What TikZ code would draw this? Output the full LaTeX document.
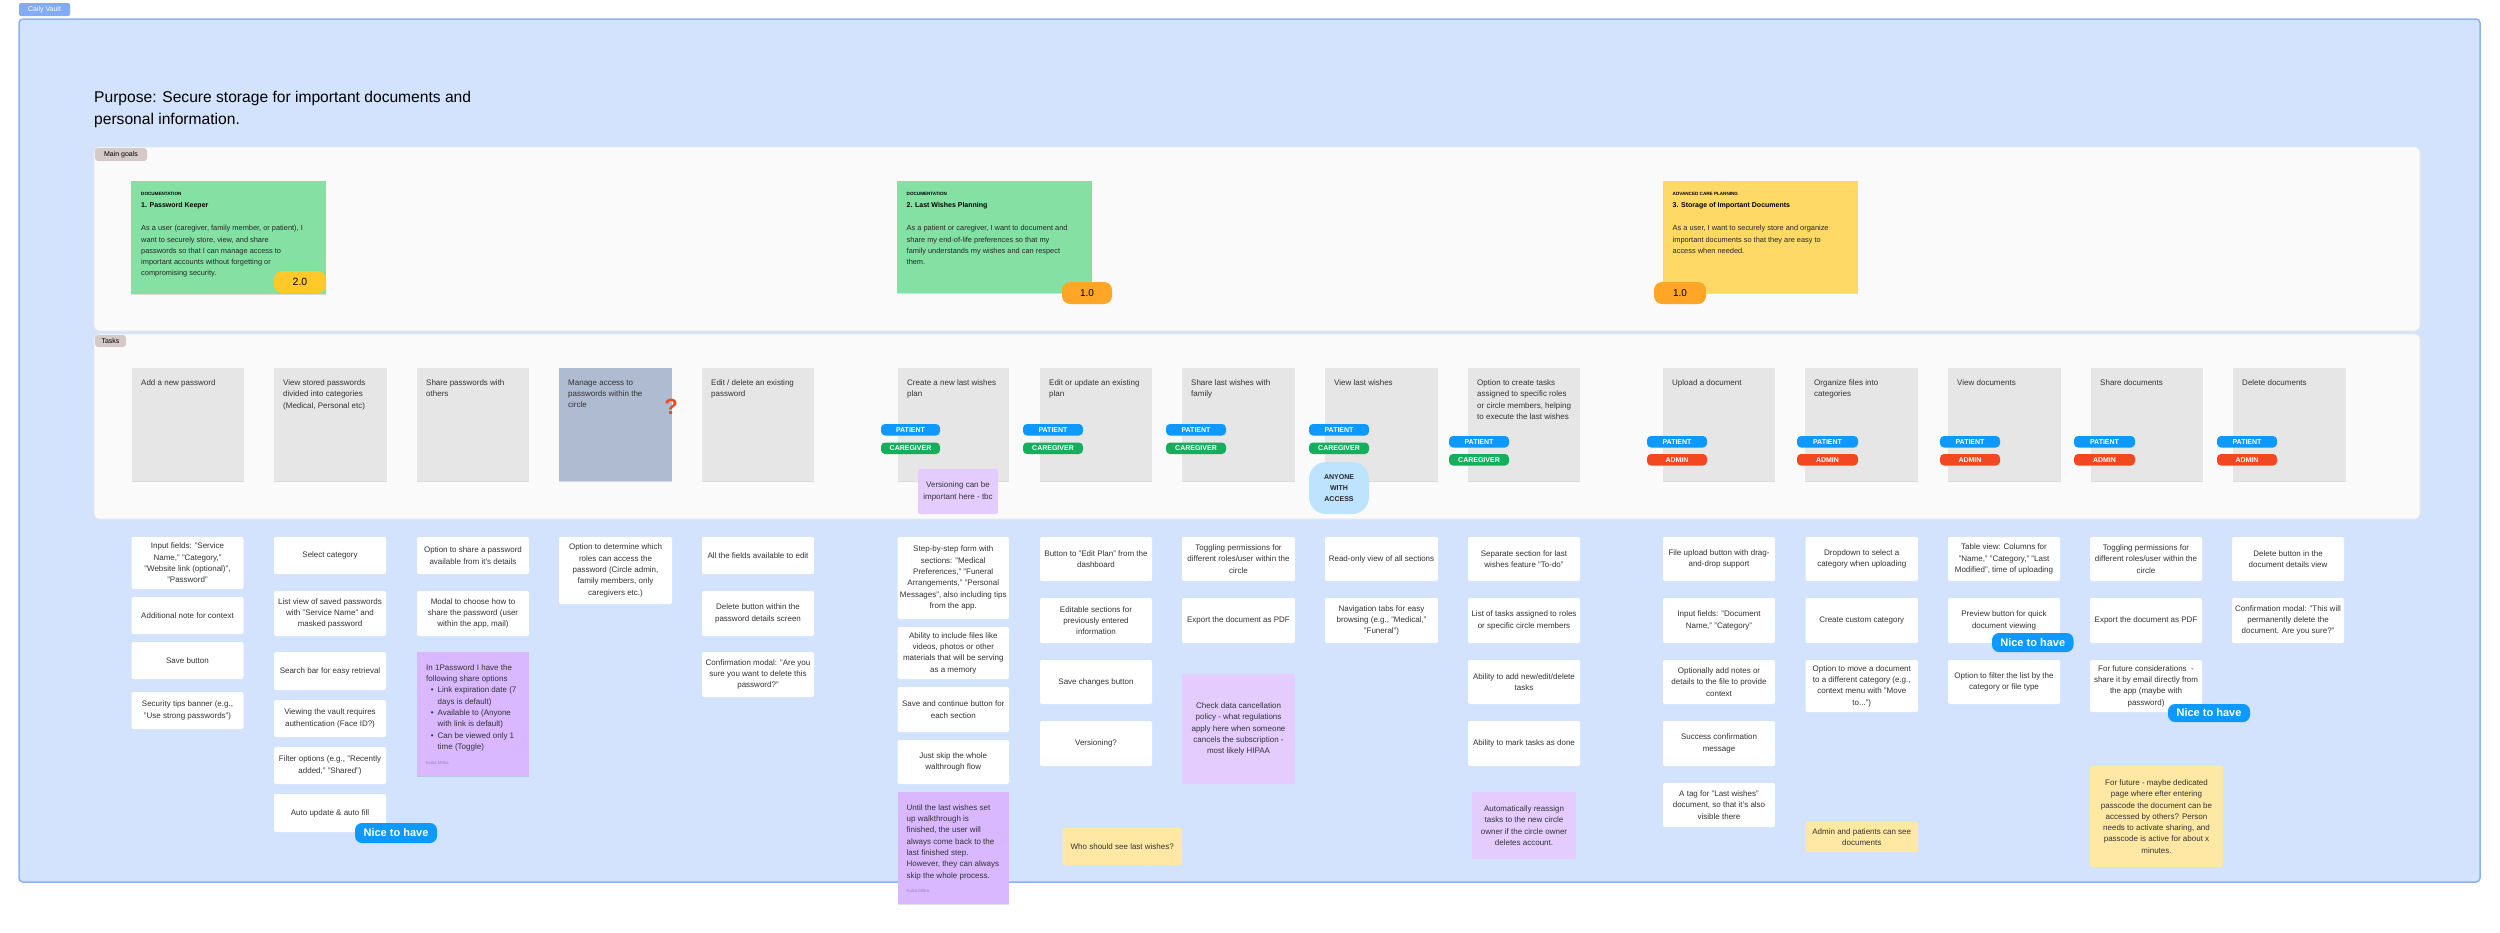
\documentclass[tikz,border=0pt]{standalone}
\usepackage{fontspec}
\setmainfont{Liberation Sans}
\usetikzlibrary{shadows}
\definecolor{framefill}{HTML}{D3E3FD}
\definecolor{frameline}{HTML}{8CB2F2}
\definecolor{vaultlbl}{HTML}{83ABF5}
\definecolor{panelfill}{HTML}{FAFAFA}
\definecolor{panelline}{HTML}{E6E6E6}
\definecolor{plabel}{HTML}{D5C9CA}
\definecolor{taskfill}{HTML}{E6E6E6}
\definecolor{taskblue}{HTML}{AEBBD0}
\definecolor{txt}{HTML}{333333}
\definecolor{ggreen}{HTML}{85E0A3}
\definecolor{gyellow}{HTML}{FFD966}
\definecolor{bdgyel}{HTML}{FFC929}
\definecolor{bdgor}{HTML}{FFA629}
\definecolor{cpatient}{HTML}{0D99FF}
\definecolor{ccare}{HTML}{14AE5C}
\definecolor{cadmin}{HTML}{F24822}
\definecolor{anyone}{HTML}{BDE3FF}
\definecolor{purpleA}{HTML}{D9B8FF}
\definecolor{purpleB}{HTML}{E4CCFF}
\definecolor{ynote}{HTML}{FFE8A3}
\definecolor{author}{HTML}{9C86B8}
\newcommand{\rbox}[7]{\node[#2,minimum width={(#5-#3)*1pt},minimum height={(#6-#4)*1pt}] (#1) at ({(#3+#5)/2},{(#4+#6)/2}) {#7};}
\newcommand{\bul}{\makebox[11.5pt][r]{\textbullet\hspace{4pt}}}
\newcommand{\ind}{\hspace*{11.5pt}}
\begin{document}
\begin{tikzpicture}[x=1pt,y=-1pt,
  frame/.style={draw=frameline,line width=1.5pt,fill=framefill,rounded corners=4pt},
  vlabel/.style={fill=vaultlbl,rounded corners=2pt,text=white,font=\fontsize{7}{8}\selectfont,inner sep=0pt},
  panel/.style={draw=panelline,line width=0.6pt,fill=panelfill,rounded corners=5pt},
  plbl/.style={fill=plabel,rounded corners=3pt,text=black,font=\fontsize{7}{8}\selectfont,inner sep=0pt},
  shad/.style={drop shadow={shadow xshift=0pt,shadow yshift=-1.3pt,opacity=0.12,fill=black}},
  tcard/.style={fill=taskfill,shad,inner sep=0pt},
  gcard/.style={shad,inner sep=0pt},
  tl/.style={anchor=north west,inner sep=0pt,align=left,text=txt,font=\fontsize{8}{11.3}\selectfont},
  wcard/.style={fill=white,rounded corners=2pt,inner sep=1pt,align=center,text=txt,font=\fontsize{8}{11.3}\selectfont},
  pnoteA/.style={fill=purpleA,shad,inner sep=0pt},
  pnoteB/.style={fill=purpleB,rounded corners=1.5pt,inner sep=1pt,align=center,text=txt,font=\fontsize{8}{11.3}\selectfont},
  ynotes/.style={fill=ynote,rounded corners=1.5pt,inner sep=1pt,align=center,text=txt,font=\fontsize{8}{11.3}\selectfont},
  role/.style={rounded corners=4pt,text=white,inner sep=0pt,font=\bfseries\fontsize{7}{8}\selectfont},
  nice/.style={fill=cpatient,rounded corners=7pt,text=white,inner sep=0pt,font=\bfseries\fontsize{11}{12}\selectfont},
  ver/.style={rounded corners=8pt,text=black,inner sep=0pt},
  auth/.style={anchor=base west,inner sep=0pt,text=author,font=\fontsize{4.5}{5}\selectfont}
]
\useasboundingbox (0,0) rectangle (2500,932);
% frame
\rbox{frame}{frame}{19}{19}{2480}{882}{}
\rbox{vault}{vlabel}{19}{3}{70}{16}{Caily Vault}
\node[anchor=north west,inner sep=0pt,align=left,text=black,font=\fontsize{15.6}{22}\selectfont] (purpose) at (94,91)
  {Purpose: Secure storage for important documents and\\personal information.};
% panels
\rbox{goals}{panel}{94}{147}{2420}{331}{}
\rbox{goalslbl}{plbl}{95}{148}{147}{161}{Main goals}
\rbox{tasks}{panel}{94}{334}{2420}{519}{}
\rbox{taskslbl}{plbl}{95}{335}{126}{347}{Tasks}
% goal cards
\rbox{g1}{gcard,fill=ggreen}{131}{181}{326}{294}{}
\node[anchor=base west,inner sep=0pt,font=\bfseries\fontsize{4.6}{5}\selectfont] (g1k) at (141,195.8) {DOCUMENTATION};
\node[anchor=base west,inner sep=0pt,font=\bfseries\fontsize{7}{8}\selectfont] (g1t) at (141,207.6) {1. Password Keeper};
\node[tl,text=black!85,font=\fontsize{7.4}{11.2}\selectfont] (g1b) at (141,225.3) {As a user (caregiver, family member, or patient), I\\want to securely store, view, and share\\passwords so that I can manage access to\\important accounts without forgetting or\\compromising security.};
\rbox{v1}{ver,fill=bdgyel,font=\fontsize{10.5}{11}\selectfont}{274}{271}{326}{293}{2.0}
\rbox{g2}{gcard,fill=ggreen}{897}{181}{1092}{293}{}
\node[anchor=base west,inner sep=0pt,font=\bfseries\fontsize{4.6}{5}\selectfont] (g2k) at (906.5,195.8) {DOCUMENTATION};
\node[anchor=base west,inner sep=0pt,font=\bfseries\fontsize{7}{8}\selectfont] (g2t) at (906.5,207.6) {2. Last Wishes Planning};
\node[tl,text=black!85,font=\fontsize{7.4}{11.2}\selectfont] (g2b) at (906.5,225.3) {As a patient or caregiver, I want to document and\\share my end-of-life preferences so that my\\family understands my wishes and can respect\\them.};
\rbox{v2}{ver,fill=bdgor,font=\fontsize{10}{11}\selectfont}{1062}{282}{1112}{304}{1.0}
\rbox{g3}{gcard,fill=gyellow}{1663}{181}{1858}{293}{}
\node[anchor=base west,inner sep=0pt,font=\bfseries\fontsize{4.6}{5}\selectfont] (g3k) at (1672.5,195.8) {ADVANCED CARE PLANNING};
\node[anchor=base west,inner sep=0pt,font=\bfseries\fontsize{7}{8}\selectfont] (g3t) at (1672.5,207.6) {3. Storage of Important Documents};
\node[tl,text=black!85,font=\fontsize{7.4}{11.2}\selectfont] (g3b) at (1672.5,225.3) {As a user, I want to securely store and organize\\important documents so that they are easy to\\access when needed.};
\rbox{v3}{ver,fill=bdgor,font=\fontsize{10}{11}\selectfont}{1654}{282}{1706}{304}{1.0}
% task cards
\rbox{t1}{tcard}{132}{368}{244}{481}{}
\node[tl] (t1x) at (141,379.5) {Add a new password};
\rbox{t2}{tcard}{274}{368}{387}{481}{}
\node[tl] (t2x) at (283,379.5) {View stored passwords\\divided into categories\\(Medical, Personal etc)};
\rbox{t3}{tcard}{417}{368}{529}{481}{}
\node[tl] (t3x) at (426,379.5) {Share passwords with\\others};
\rbox{t4}{tcard,fill=taskblue}{559}{368}{672}{481}{}
\node[tl] (t4x) at (568,379.5) {Manage access to\\passwords within the\\circle};
\node[inner sep=0pt,text=cadmin,font=\bfseries\fontsize{22}{22}\selectfont] (qm) at (671,407) {?};
\rbox{t5}{tcard}{702}{368}{814}{481}{}
\node[tl] (t5x) at (711,379.5) {Edit / delete an existing\\password};
\rbox{t6}{tcard}{898}{368}{1009}{481}{}
\node[tl] (t6x) at (907,379.5) {Create a new last wishes\\plan};
\rbox{t7}{tcard}{1040}{368}{1152}{481}{}
\node[tl] (t7x) at (1049,379.5) {Edit or update an existing\\plan};
\rbox{t8}{tcard}{1182}{368}{1295}{481}{}
\node[tl] (t8x) at (1191,379.5) {Share last wishes with\\family};
\rbox{t9}{tcard}{1325}{368}{1438}{481}{}
\node[tl] (t9x) at (1334,379.5) {View last wishes};
\rbox{t10}{tcard}{1468}{368}{1580}{481}{}
\node[tl] (t10x) at (1477,379.5) {Option to create tasks\\assigned to specific roles\\or circle members, helping\\to execute the last wishes};
\rbox{t11}{tcard}{1663}{368}{1775}{481}{}
\node[tl] (t11x) at (1672,379.5) {Upload a document};
\rbox{t12}{tcard}{1805}{368}{1918}{481}{}
\node[tl] (t12x) at (1814,379.5) {Organize files into\\categories};
\rbox{t13}{tcard}{1948}{368}{2061}{481}{}
\node[tl] (t13x) at (1957,379.5) {View documents};
\rbox{t14}{tcard}{2091}{368}{2203}{481}{}
\node[tl] (t14x) at (2100,379.5) {Share documents};
\rbox{t15}{tcard}{2233}{368}{2346}{481}{}
\node[tl] (t15x) at (2242,379.5) {Delete documents};
% role badges
\rbox{p6}{role,fill=cpatient}{881}{424}{940}{435.5}{PATIENT}
\rbox{c6}{role,fill=ccare}{881}{442.5}{940}{454}{CAREGIVER}
\rbox{p7}{role,fill=cpatient}{1023}{424}{1083}{435.5}{PATIENT}
\rbox{c7}{role,fill=ccare}{1023}{442.5}{1083}{454}{CAREGIVER}
\rbox{p8}{role,fill=cpatient}{1166}{424}{1226}{435.5}{PATIENT}
\rbox{c8}{role,fill=ccare}{1166}{442.5}{1226}{454}{CAREGIVER}
\rbox{p9}{role,fill=cpatient}{1309}{424}{1369}{435.5}{PATIENT}
\rbox{c9}{role,fill=ccare}{1309}{442.5}{1369}{454}{CAREGIVER}
\rbox{any}{fill=anyone,rounded corners=17pt,inner sep=0pt,align=center,text=black!85,font=\bfseries\fontsize{7}{11}\selectfont}{1309}{462}{1369}{514}{ANYONE\\WITH\\ACCESS}
\rbox{p10}{role,fill=cpatient}{1449}{436}{1509}{447.5}{PATIENT}
\rbox{c10}{role,fill=ccare}{1449}{454}{1509}{465.5}{CAREGIVER}
\rbox{p11}{role,fill=cpatient}{1647}{436}{1707}{447.5}{PATIENT}
\rbox{a11}{role,fill=cadmin}{1647}{454}{1707}{465.5}{ADMIN}
\rbox{p12}{role,fill=cpatient}{1797}{436}{1858}{447.5}{PATIENT}
\rbox{a12}{role,fill=cadmin}{1797}{454}{1858}{465.5}{ADMIN}
\rbox{p13}{role,fill=cpatient}{1940}{436}{2000}{447.5}{PATIENT}
\rbox{a13}{role,fill=cadmin}{1940}{454}{2000}{465.5}{ADMIN}
\rbox{p14}{role,fill=cpatient}{2074}{436}{2135}{447.5}{PATIENT}
\rbox{a14}{role,fill=cadmin}{2074}{454}{2135}{465.5}{ADMIN}
\rbox{p15}{role,fill=cpatient}{2217}{436}{2277}{447.5}{PATIENT}
\rbox{a15}{role,fill=cadmin}{2217}{454}{2277}{465.5}{ADMIN}
\rbox{vnote}{pnoteB}{918}{469}{998}{514}{Versioning can be\\important here - tbc}
% column 1
\rbox{c1a}{wcard}{131.5}{537}{243.5}{589}{Input fields: "Service\\Name," "Category,"\\"Website link (optional)",\\"Password"}
\rbox{c1b}{wcard}{131.5}{597}{243.5}{634}{Additional note for context}
\rbox{c1c}{wcard}{131.5}{642}{243.5}{679}{Save button}
\rbox{c1d}{wcard}{131.5}{692}{243.5}{729}{Security tips banner (e.g.,\\"Use strong passwords")}
% column 2
\rbox{c2a}{wcard}{274}{537}{386}{574}{Select category}
\rbox{c2b}{wcard}{274}{591}{386}{636}{List view of saved passwords\\with "Service Name" and\\masked password}
\rbox{c2c}{wcard}{274}{652}{386}{690}{Search bar for easy retrieval}
\rbox{c2d}{wcard}{274}{700}{386}{737}{Viewing the vault requires\\authentication (Face ID?)}
\rbox{c2e}{wcard}{274}{747}{386}{784}{Filter options (e.g., "Recently\\added," "Shared")}
\rbox{c2f}{wcard}{274}{794}{386}{832}{Auto update \& auto fill}
\rbox{n1}{nice}{355}{823}{437}{843}{Nice to have}
% column 3
\rbox{c3a}{wcard}{417}{537}{529}{574}{Option to share a password\\available from it's details}
\rbox{c3b}{wcard}{417}{591}{529}{636}{Modal to choose how to\\share the password (user\\within the app, mail)}
\rbox{c3n}{pnoteA}{417}{652}{529}{776}{}
\node[tl] (c3nt) at (426,664.3) {In 1Password I have the\\following share options\\\bul Link expiration date (7\\\ind days is default)\\\bul Available to (Anyone\\\ind with link is default)\\\bul Can be viewed only 1\\\ind time (Toggle)};
\node[auth] (c3na) at (426,764.5) {Kuba Mitka};
% column 4
\rbox{c4a}{wcard}{559}{537}{672}{604}{Option to determine which\\roles can access the\\password (Circle admin,\\family members, only\\caregivers etc.)}
% column 5
\rbox{c5a}{wcard}{702}{537}{814}{574}{All the fields available to edit}
\rbox{c5b}{wcard}{702}{591}{814}{636}{Delete button within the\\password details screen}
\rbox{c5c}{wcard}{702}{652}{814}{697}{Confirmation modal: "Are you\\sure you want to delete this\\password?"}
% column 6
\rbox{c6a}{wcard}{897.5}{537}{1009}{619}{Step-by-step form with\\sections: "Medical\\Preferences," "Funeral\\Arrangements," "Personal\\Messages", also including tips\\from the app.}
\rbox{c6b}{wcard}{897.5}{627}{1009}{679}{Ability to include files like\\videos, photos or other\\materials that will be serving\\as a memory}
\rbox{c6c}{wcard}{897.5}{687}{1009}{732}{Save and continue button for\\each section}
\rbox{c6d}{wcard}{897.5}{740}{1009}{784}{Just skip the whole\\walthrough flow}
\rbox{c6n}{pnoteA}{897.5}{792}{1009}{904}{}
\node[tl] (c6nt) at (906.5,804.3) {Until the last wishes set\\up walkthrough is\\finished, the user will\\always come back to the\\last finished step.\\However, they can always\\skip the whole process.};
\node[auth] (c6na) at (906.5,892.5) {Kuba Mitka};
% column 7
\rbox{c7a}{wcard}{1040}{537}{1152}{581}{Button to "Edit Plan" from the\\dashboard}
\rbox{c7b}{wcard}{1040}{598}{1152}{643}{Editable sections for\\previously entered\\information}
\rbox{c7c}{wcard}{1040}{660}{1152}{704}{Save changes button}
\rbox{c7d}{wcard}{1040}{721}{1152}{766}{Versioning?}
\rbox{c7y}{ynotes}{1062.5}{828}{1182}{865}{Who should see last wishes?}
% column 8
\rbox{c8a}{wcard}{1182}{537}{1295}{581}{Toggling permissions for\\different roles/user within the\\circle}
\rbox{c8b}{wcard}{1182}{598}{1295}{643}{Export the document as PDF}
\rbox{c8n}{pnoteB}{1182}{674}{1295}{784}{Check data cancellation\\policy - what regulations\\apply here when someone\\cancels the subscription -\\most likely HIPAA}
% column 9
\rbox{c9a}{wcard}{1325}{537}{1438}{581}{Read-only view of all sections}
\rbox{c9b}{wcard}{1325}{598}{1438}{643}{Navigation tabs for easy\\browsing (e.g., "Medical,"\\"Funeral")}
% column 10
\rbox{c10a}{wcard}{1468}{537}{1580}{581}{Separate section for last\\wishes feature "To-do"}
\rbox{c10b}{wcard}{1468}{598}{1580}{643}{List of tasks assigned to roles\\or specific circle members}
\rbox{c10c}{wcard}{1468}{660}{1580}{704}{Ability to add new/edit/delete\\tasks}
\rbox{c10d}{wcard}{1468}{721}{1580}{766}{Ability to mark tasks as done}
\rbox{c10n}{pnoteB}{1472}{792}{1576}{859}{Automatically reassign\\tasks to the new circle\\owner if the circle owner\\deletes account.}
% column 11
\rbox{c11a}{wcard}{1663}{537}{1775}{581}{File upload button with drag-\\and-drop support}
\rbox{c11b}{wcard}{1663}{598}{1775}{643}{Input fields: "Document\\Name," "Category"}
\rbox{c11c}{wcard}{1663}{660}{1775}{704}{Optionally add notes or\\details to the file to provide\\context}
\rbox{c11d}{wcard}{1663}{721}{1775}{766}{Success confirmation\\message}
\rbox{c11e}{wcard}{1663}{783}{1775}{827}{A tag for "Last wishes"\\document, so that it's also\\visible there}
% column 12
\rbox{c12a}{wcard}{1805.5}{537}{1918}{581}{Dropdown to select a\\category when uploading}
\rbox{c12b}{wcard}{1805.5}{598}{1918}{643}{Create custom category}
\rbox{c12c}{wcard}{1805.5}{660}{1918}{712}{Option to move a document\\to a different category (e.g.,\\context menu with "Move\\to...")}
\rbox{c12y}{ynotes}{1805.5}{822}{1918}{852}{Admin and patients can see\\documents}
% column 13
\rbox{c13a}{wcard}{1948}{537}{2060}{581}{Table view: Columns for\\"Name," "Category," "Last\\Modified", time of uploading}
\rbox{c13b}{wcard}{1948}{598}{2060}{643}{Preview button for quick\\document viewing}
\rbox{c13c}{wcard}{1948}{660}{2060}{704}{Option to filter the list by the\\category or file type}
\rbox{n2}{nice}{1992}{633}{2073.5}{652}{Nice to have}
% column 14
\rbox{c14a}{wcard}{2090}{537}{2202}{581}{Toggling permissions for\\different roles/user within the\\circle}
\rbox{c14b}{wcard}{2090}{598}{2202}{643}{Export the document as PDF}
\rbox{c14c}{wcard}{2090}{660}{2202}{712}{For future considerations~ -\\share it by email directly from\\the app (maybe with\\password)}
\rbox{n3}{nice}{2168}{704}{2250}{722}{Nice to have}
\rbox{c14y}{ynotes}{2090}{766}{2223}{867}{For future - maybe dedicated\\page where efter entering\\passcode the document can be\\accessed by others? Person\\needs to activate sharing, and\\passcode is active for about x\\minutes.}
% column 15
\rbox{c15a}{wcard}{2232}{537}{2344}{581}{Delete button in the\\document details view}
\rbox{c15b}{wcard}{2232}{598}{2344}{643}{Confirmation modal: "This will\\permanently delete the\\document. Are you sure?"}
\end{tikzpicture}
\end{document}
